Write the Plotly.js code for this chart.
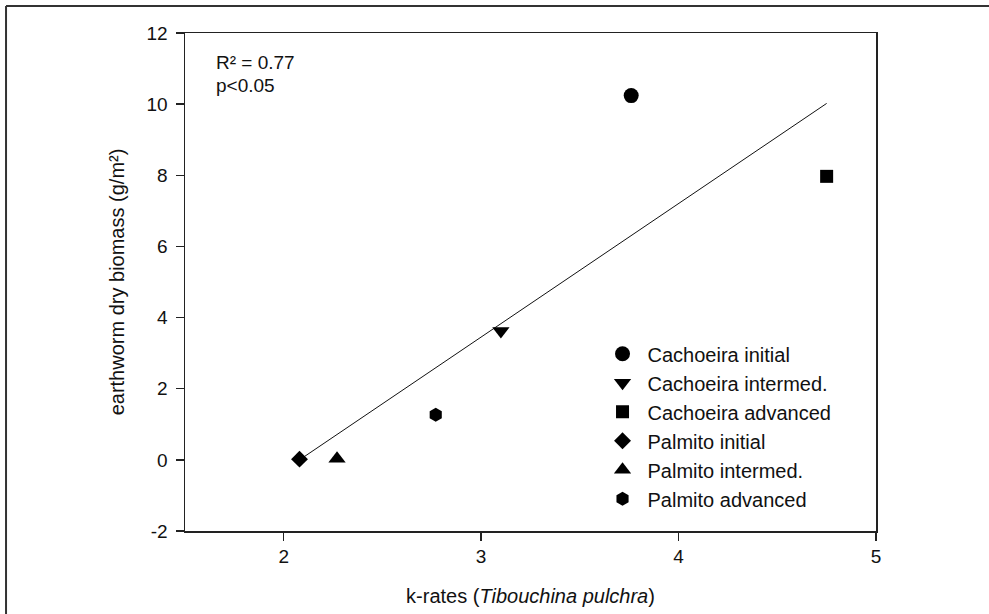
<!DOCTYPE html>
<html>
<head>
<meta charset="utf-8">
<script src="https://cdn.plot.ly/plotly-3.0.1.min.js"></script>
<style>
html,body{margin:0;padding:0;background:#fff;}
#chart{width:989px;height:614px;}
</style>
</head>
<body>
<div id="chart"></div>
<script>
// Data
const seriesNames = ["Cachoeira initial","Cachoeira intermed.","Cachoeira advanced","Palmito initial","Palmito intermed.","Palmito advanced"];
const kRates = [3.76, 3.10, 4.75, 2.08, 2.27, 2.77];
const biomass = [10.24, 3.62, 7.97, 0.02, 0.03, 1.27];
const symbols = ["circle","triangle-down","square","diamond","triangle-up","hexagon"];
const sizes = [15, 15, 13, 13, 15, 14];
// Regression line endpoints
const fitX = [2.08, 4.75];
const fitY = [0.0, 10.02];
const xTicks = [2, 3, 4, 5];
const yTicks = [-2, 0, 2, 4, 6, 8, 10, 12];

const FONT = "Arial, 'Liberation Sans', sans-serif";
const traces = [];
traces.push({
  x: fitX, y: fitY, mode: "lines", type: "scatter",
  line: {color: "#111", width: 1}, showlegend: false, hoverinfo: "skip"
});
for (let i = 0; i < seriesNames.length; i++) {
  traces.push({
    x: [kRates[i]], y: [biomass[i]], mode: "markers", type: "scatter",
    name: seriesNames[i],
    marker: {symbol: symbols[i], size: sizes[i], color: "#000", line: {width: 0}}
  });
}

const layout = {
  width: 989, height: 614,
  margin: {l: 185, r: 113, t: 33, b: 83},
  paper_bgcolor: "#fff", plot_bgcolor: "#fff",
  font: {family: FONT, color: "#111", size: 19},
  showlegend: true,
  legend: {
    x: 0.597, y: 0.395, xanchor: "left", yanchor: "top",
    font: {family: FONT, size: 20, color: "#111"},
    bgcolor: "rgba(0,0,0,0)", borderwidth: 0, itemwidth: 40
  },
  xaxis: {
    range: [1.5, 5], tickvals: xTicks, ticktext: xTicks.map(String),
    showgrid: false, zeroline: false,
    showline: true, linecolor: "#222", linewidth: 1.5, mirror: true,
    ticks: "outside", ticklen: 8, tickwidth: 1.5, tickcolor: "#222",
    tickfont: {size: 19},
    title: {text: "k-rates (<i>Tibouchina pulchra</i>)", font: {size: 20}, standoff: 22}
  },
  yaxis: {
    range: [-2, 12], tickvals: yTicks, ticktext: yTicks.map(String),
    showgrid: false, zeroline: false,
    showline: true, linecolor: "#222", linewidth: 1.5, mirror: true,
    ticks: "outside", ticklen: 8, tickwidth: 1.5, tickcolor: "#222",
    tickfont: {size: 19}, ticklabelstandoff: 4,
    title: {text: "earthworm dry biomass (g/m²)", font: {size: 20}, standoff: 16}
  },
  annotations: [
    {xref: "paper", yref: "paper", x: 0.042, y: 0.94, xanchor: "left", yanchor: "middle",
     text: "R² = 0.77", showarrow: false, font: {size: 19}},
    {xref: "paper", yref: "paper", x: 0.042, y: 0.895, xanchor: "left", yanchor: "middle",
     text: "p<0.05", showarrow: false, font: {size: 19}}
  ],
  shapes: [
    {type: "line", xref: "paper", yref: "paper", x0: -0.259, x1: 1.2, y0: 1.054, y1: 1.054,
     line: {color: "#333", width: 2}},
    {type: "line", xref: "paper", yref: "paper", x0: -0.259, x1: -0.259, y0: 1.054, y1: -0.2,
     line: {color: "#333", width: 2}}
  ]
};

Plotly.newPlot("chart", traces, layout, {displayModeBar: false, staticPlot: true});
</script>
</body>
</html>
